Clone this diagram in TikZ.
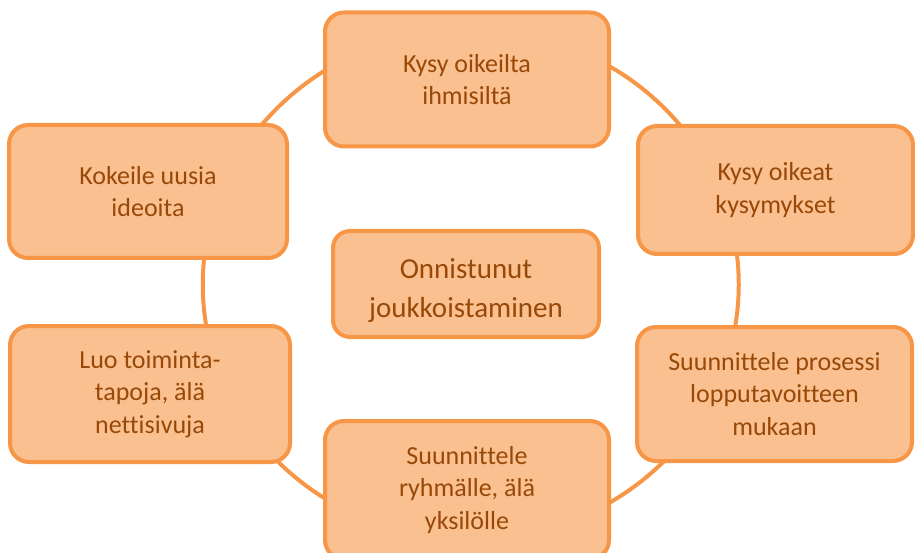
\documentclass[tikz,border=0pt]{standalone}
\usepackage{fontspec}
\setmainfont[Ligatures=NoCommon]{Carlito}
\definecolor{boxfill}{HTML}{FAC090}
\definecolor{boxline}{HTML}{F79646}
\definecolor{boxtext}{HTML}{984807}
\tikzset{
  stepbox/.style={draw=boxline, fill=boxfill, line width=4pt, rounded corners=19pt,
    align=center, text=boxtext, font=\fontsize{26}{32.5}\selectfont, inner sep=0pt},
  hubbox/.style={draw=boxline, fill=boxfill, line width=4pt, rounded corners=17pt, inner sep=0pt},
  hubtext/.style={align=center, text=boxtext, font=\fontsize{29}{39}\selectfont, inner sep=0pt},
  ring/.style={draw=boxline, line width=4pt}
}
\begin{document}
\begin{tikzpicture}[x=1pt,y=-1pt]
\useasboundingbox (0,0) rectangle (915,553);
\begin{scope}
\clip (0,0) rectangle (915,553);
\draw[ring] (470.75,284.5) ellipse [x radius=268pt, y radius=255pt];
\node[stepbox, minimum width=284pt, minimum height=134pt] (top) at (467,79.5) {Kysy oikeilta\\ihmisiltä};
\node[stepbox, minimum width=275pt, minimum height=128pt] (tr) at (775.5,190) {Kysy oikeat\\kysymykset};
\node[stepbox, minimum width=275pt, minimum height=134pt] (br) at (774.5,394) {Suunnittele prosessi\\lopputavoitteen\\mukaan};
\node[stepbox, minimum width=284pt, minimum height=138pt] (bot) at (467,490) {Suunnittele\\ryhmälle, älä\\yksilölle};
\node[stepbox, minimum width=280pt, minimum height=136pt] (bl) at (150,394) {Luo toiminta-\\tapoja, älä\\nettisivuja};
\node[stepbox, minimum width=278pt, minimum height=133pt] (tl) at (148,191.5) {Kokeile uusia\\ideoita};
\node[hubbox, minimum width=266pt, minimum height=106pt] (hub) at (466,284) {};
\node[hubtext] (hubt) at ([yshift=-7pt]hub.center) {Onnistunut\\joukkoistaminen};
\end{scope}
\end{tikzpicture}
\end{document}
